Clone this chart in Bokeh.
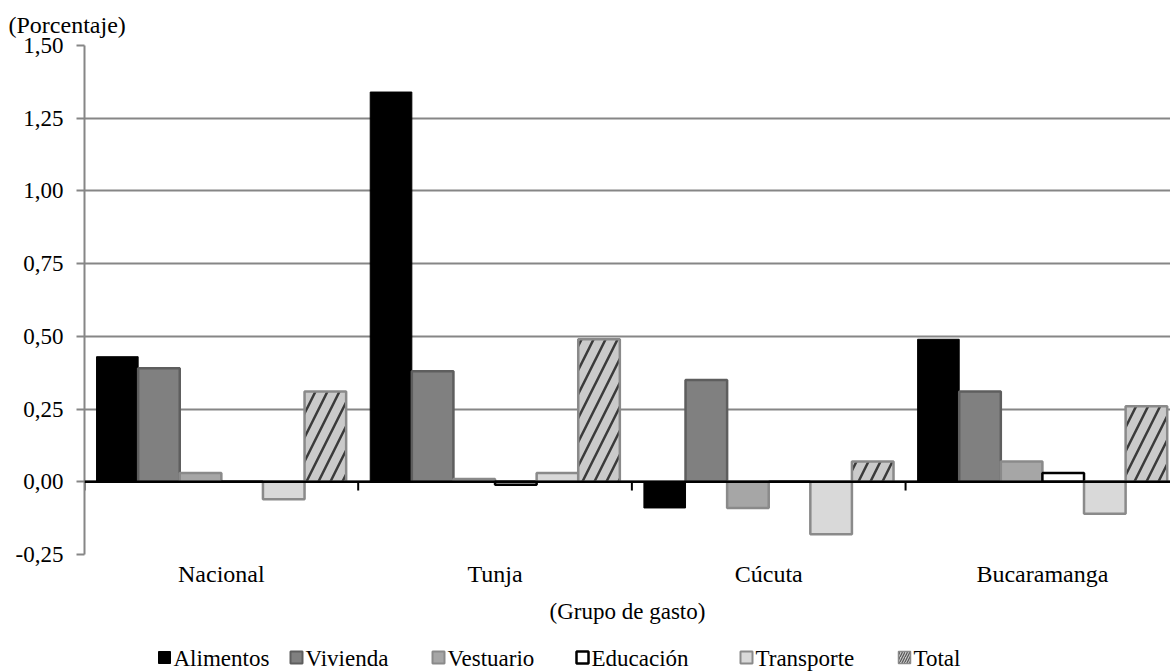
from bokeh.plotting import figure
from bokeh.models import Range1d, FixedTicker, Span
from bokeh.core.properties import value
from bokeh.layouts import column
from bokeh.embed import file_html
from bokeh.resources import INLINE

categories = ["Nacional", "Tunja", "Cúcuta", "Bucaramanga"]
series_names = ["Alimentos", "Vivienda", "Vestuario", "Educación", "Transporte", "Total"]
alimentos = [0.43, 1.34, -0.09, 0.49]
vivienda = [0.39, 0.38, 0.35, 0.31]
vestuario = [0.03, 0.01, -0.09, 0.07]
educacion = [0.00, -0.01, 0.00, 0.03]
transporte = [-0.06, 0.03, -0.18, -0.11]
total = [0.31, 0.49, 0.07, 0.26]
y_ticks = [-0.25, 0.0, 0.25, 0.50, 0.75, 1.00, 1.25, 1.50]

# layout of the legend strip (pixel positions of each swatch)
legend_x = [158, 290, 432, 576, 740, 898]

series_values = [alimentos, vivienda, vestuario, educacion, transporte, total]
styles = [
    dict(fill_color="black", line_color="black", line_width=1),
    dict(fill_color="#808080", line_color="#5E5E5E", line_width=2.5),
    dict(fill_color="#A6A6A6", line_color="#8A8A8A", line_width=2.5),
    dict(fill_color="white", line_color="black", line_width=2.5),
    dict(fill_color="#D9D9D9", line_color="#8A8A8A", line_width=2.5),
    dict(fill_color="#CACACA", line_color="#8A8A8A", line_width=2.5,
         hatch_pattern="/", hatch_color="#3A3A3A", hatch_weight=2.5, hatch_scale=24),
]
legend_styles = [
    dict(fill_color="black", line_color="black", line_width=1),
    dict(fill_color="#808080", line_color="#5E5E5E", line_width=2),
    dict(fill_color="#A6A6A6", line_color="#8A8A8A", line_width=2),
    dict(fill_color="white", line_color="black", line_width=2.5),
    dict(fill_color="#D9D9D9", line_color="#8A8A8A", line_width=2),
    dict(fill_color="#CACACA", line_color="#8A8A8A", line_width=1.5,
         hatch_pattern="/", hatch_color="#555555", hatch_weight=1.2, hatch_scale=5),
]

FONT = "Liberation Serif"
LEFT = 84
n_cat = len(categories)
p = figure(width=1170, height=642, output_backend="svg", toolbar_location=None,
           x_range=Range1d(0, 3.968), y_range=Range1d(y_ticks[0], y_ticks[-1]),
           min_border_left=LEFT, min_border_right=0, min_border_top=45, min_border_bottom=88)
p.outline_line_color = None
p.background_fill_color = "white"
p.border_fill_color = "white"

# title
p.title.text = "(Porcentaje)"
p.title.align = "left"
p.title.offset = -76
p.title.text_font = FONT
p.title.text_font_style = "normal"
p.title.text_font_size = "24px"
p.title.text_color = "black"
p.title.standoff = 16

# grid
p.xgrid.visible = False
p.ygrid.ticker = FixedTicker(ticks=y_ticks)
p.ygrid.grid_line_color = "#868686"
p.ygrid.grid_line_width = 2

# y axis
p.yaxis.ticker = FixedTicker(ticks=y_ticks)
p.yaxis.major_label_overrides = {v: f"{v:.2f}".replace(".", ",") for v in y_ticks}
p.yaxis.axis_line_color = "#868686"
p.yaxis.axis_line_width = 2
p.yaxis.major_tick_line_color = "#868686"
p.yaxis.major_tick_line_width = 2
p.yaxis.major_tick_out = 8
p.yaxis.major_tick_in = 0
p.yaxis.minor_tick_line_color = None
p.yaxis.major_label_text_font = FONT
p.yaxis.major_label_text_font_size = "23px"
p.yaxis.major_label_text_color = "black"
p.yaxis.major_label_standoff = 13

# x axis
centers = [i + 0.5 for i in range(n_cat)]
p.xaxis.ticker = FixedTicker(ticks=centers)
p.xaxis.major_label_overrides = {c: name for c, name in zip(centers, categories)}
p.xaxis.axis_line_color = None
p.xaxis.major_tick_line_color = None
p.xaxis.major_tick_out = 0
p.xaxis.major_tick_in = 0
p.xaxis.minor_tick_line_color = None
p.xaxis.major_label_text_font = FONT
p.xaxis.major_label_text_font_size = "24px"
p.xaxis.major_label_text_color = "black"
p.xaxis.major_label_standoff = 6
p.xaxis.axis_label = "(Grupo de gasto)"
p.xaxis.axis_label_text_font = FONT
p.xaxis.axis_label_text_font_size = "23px"
p.xaxis.axis_label_text_font_style = "normal"
p.xaxis.axis_label_text_color = "black"
p.xaxis.axis_label_standoff = 9

# bars
bw = 0.152
n_s = len(series_names)
for k, (name, vals, st) in enumerate(zip(series_names, series_values, styles)):
    xs = [i + 0.5 + (k - (n_s - 1) / 2) * bw for i in range(n_cat)]
    p.vbar(x=xs, top=vals, bottom=0, width=bw, **st)

# zero line and category boundary ticks
p.add_layout(Span(location=0, dimension="width", line_color="black", line_width=2.5))
bounds = list(range(n_cat))
p.segment(x0=bounds, y0=[0] * n_cat, x1=bounds, y1=[-0.03] * n_cat,
          line_color="black", line_width=2)

# legend strip (separate figure below; its frame is aligned with the main frame,
# so its x range is given in page pixels from LEFT to the right edge)
LG_H = 30
lg = figure(width=1170, height=LG_H, output_backend="svg", toolbar_location=None,
            x_range=Range1d(LEFT, 1170), y_range=Range1d(0, LG_H),
            min_border_left=LEFT, min_border_right=0, min_border_top=0, min_border_bottom=0)
lg.outline_line_color = None
lg.xaxis.visible = False
lg.yaxis.visible = False
lg.grid.visible = False
lg.background_fill_color = "white"
lg.border_fill_color = "white"
sw = 12
yc = LG_H / 2
for name, x0, st in zip(series_names, legend_x, legend_styles):
    lg.rect(x=[x0 + sw / 2], y=[yc], width=sw, height=sw,
            width_units="screen", height_units="screen", **st)
    lg.text(x=[x0 + sw + 3], y=[yc - 1], text=[name], text_font=value(FONT),
            text_font_size="23px", text_color="black", text_baseline="middle",
            text_align="left")

open("out.html", "w").write(file_html(column(p, lg, spacing=0), INLINE))
